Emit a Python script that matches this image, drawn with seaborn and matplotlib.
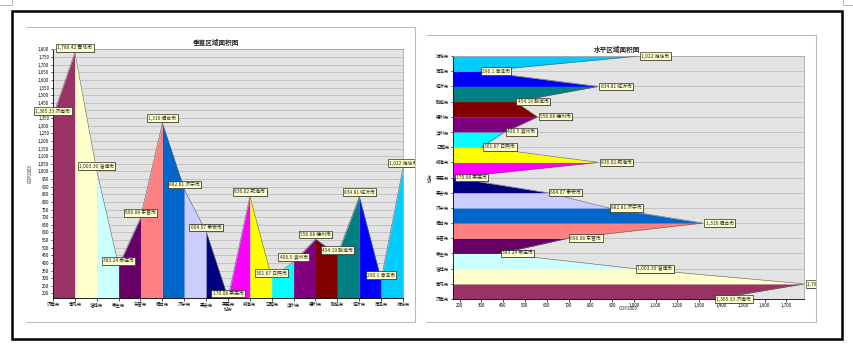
import numpy as np
import matplotlib
matplotlib.use("Agg")
import matplotlib.pyplot as plt
import matplotlib.patheffects as pe
from matplotlib.lines import Line2D
from matplotlib.patches import Rectangle
from matplotlib.transforms import Bbox, TransformedBbox
from matplotlib.ticker import FuncFormatter
import seaborn as sns

# 数据
cities = ["济南市", "青岛市", "淄博市", "枣庄市", "东营市", "烟台市", "济宁市", "泰安市", "莱芜市",
          "威海市", "日照市", "滨州市", "德州市", "聊城市", "临沂市", "菏泽市", "潍坊市"]
gdp = [1365.33, 1780.42, 1003.30, 383.24, 696.08, 1316, 882.81, 604.07, 170.08,
       836.02, 301.67, 406.5, 556.68, 454.19, 834.81, 290.1, 1022]
gdp_text = ["1,365.33", "1,780.42", "1,003.30", "383.24", "696.08", "1,316", "882.81", "604.07", "170.08",
            "836.02", "301.67", "406.5", "556.68", "454.19", "834.81", "290.1", "1,022"]
seg_colors = ["#993366", "#FFFFCC", "#CCFFFF", "#660066", "#FF8080", "#0066CC", "#CCCCFF", "#000080",
              "#FF00FF", "#FFFF00", "#00FFFF", "#800080", "#800000", "#008080", "#0000FF", "#00CCFF"]
v_ticks = list(range(200, 1801, 50))
h_ticks = list(range(200, 1701, 100))

W, H = 854, 353
sns.set_theme(style="white")
plt.rcParams['font.family'] = ['Noto Sans CJK SC', 'DejaVu Sans']

fig = plt.figure(figsize=(W / 100, H / 100), dpi=100)
fig.patch.set_facecolor("white")


def fx(x):
    return x / W


def fy(y):
    return 1 - y / H


def fig_line(xs, ys, color="#BBBBBB", lw=0.8):
    fig.add_artist(Line2D([fx(x) for x in xs], [fy(y) for y in ys], color=color, lw=lw,
                          transform=fig.transFigure))


comma = FuncFormatter(lambda v, p: f"{v:,.0f}")
box = dict(boxstyle="square,pad=0.25", fc="#FFFFCC", ec="black", lw=0.4)
tick_fs = 3.2
lab_fs = 3.5


def style_axes(ax):
    ax.set_facecolor("#E3E3E3")
    for s in ["left", "bottom"]:
        ax.spines[s].set_color("black")
        ax.spines[s].set_linewidth(0.6)
    for s in ["top", "right"]:
        ax.spines[s].set_color("#A8A8A8")
        ax.spines[s].set_linewidth(0.6)
    ax.tick_params(axis="both", labelsize=tick_fs, length=1.8, width=0.5, pad=1,
                   direction="out", colors="black", bottom=True, left=True)
    ax.set_axisbelow(True)


def add_label(ax, xy, txt, offset, ha, va, clip):
    t = ax.annotate(txt, xy, xytext=offset, textcoords="offset points", ha=ha, va=va,
                    fontsize=lab_fs, bbox=box, annotation_clip=False, zorder=10)
    t.set_clip_on(True)
    t.set_clip_box(TransformedBbox(clip, fig.transFigure))
    t.get_bbox_patch().set_path_effects([
        pe.SimplePatchShadow(offset=(0.7, -0.7), shadow_rgbFace="#7F7F7F", alpha=0.9), pe.Normal()])


pos = np.arange(len(cities))
vmin = min(gdp)

# 垂直区域面积图
ax1 = fig.add_axes([fx(53), fy(298), fx(403) - fx(53), fy(48.5) - fy(298)])
style_axes(ax1)
for i in range(len(cities) - 1):
    ax1.fill_between([pos[i], pos[i + 1]], [gdp[i], gdp[i + 1]], vmin, color=seg_colors[i], lw=0, zorder=2)
sns.lineplot(x=pos, y=gdp, color="#606060", lw=0.4, ax=ax1, zorder=3)
ax1.set_xlim(0, len(cities) - 1)
ax1.set_ylim(vmin, 1806)
ax1.set_yticks(v_ticks)
ax1.yaxis.set_major_formatter(comma)
ax1.set_xticks(pos)
ax1.set_xticklabels(cities)
ax1.yaxis.grid(True, color="#BDBDBD", lw=0.6)
ax1.set_ylabel("GDP2003", fontsize=tick_fs)
ax1.yaxis.set_label_coords(-0.057, 0.5)
ax1.set_xlabel("城市", fontsize=tick_fs)
ax1.xaxis.set_label_coords(0.5, -0.036)
clip1 = Bbox.from_extents(fx(12), fy(339), fx(415), fy(11))
for i in range(len(cities)):
    add_label(ax1, (pos[i], gdp[i]), f"{gdp_text[i]} {cities[i]}", (0, 1.5), "center", "bottom", clip1)
fig.text(fx(216), fy(42), "垂直区域面积图", ha="center", va="center", fontsize=4.8, fontweight="bold")

# 水平区域面积图
ax2 = fig.add_axes([fx(453), fy(299), fx(804) - fx(453), fy(56) - fy(299)])
style_axes(ax2)
for i in range(len(cities) - 1):
    ax2.fill_betweenx([pos[i], pos[i + 1]], [gdp[i], gdp[i + 1]], vmin, color=seg_colors[i], lw=0, zorder=2)
ax2.plot(gdp, pos, color="#606060", lw=0.4, zorder=3)
ax2.set_ylim(0, len(cities) - 1)
ax2.set_xlim(vmin, max(gdp))
ax2.set_xticks(h_ticks)
ax2.xaxis.set_major_formatter(comma)
ax2.set_yticks(pos)
ax2.set_yticklabels(cities)
ax2.yaxis.grid(True, color="#BDBDBD", lw=0.6)
ax2.set_xlabel("GDP2003", fontsize=tick_fs)
ax2.xaxis.set_label_coords(0.5, -0.030)
ax2.set_ylabel("城市", fontsize=tick_fs)
ax2.yaxis.set_label_coords(-0.057, 0.5)
clip2 = Bbox.from_extents(fx(420), fy(339), fx(816), fy(11))
for i in range(len(cities)):
    add_label(ax2, (gdp[i], pos[i]), f"{gdp_text[i]} {cities[i]}", (2, 0), "left", "center", clip2)
fig.text(fx(617), fy(49), "水平区域面积图", ha="center", va="center", fontsize=4.8, fontweight="bold")

# 面板边框
fig_line([26, 415], [27, 27])
fig_line([415, 415], [27, 322])
fig_line([26, 415], [322, 322])
fig_line([427, 816], [35, 35])
fig_line([816, 816], [35, 322])
fig_line([427, 816], [322, 322])
# 角标
fig_line([12, 12, 0], [0, 5, 5], color="#999999", lw=0.5)
fig_line([843, 843, 854], [0, 5, 5], color="#999999", lw=0.5)
fig.add_artist(Rectangle((fx(12), fy(339)), fx(842) - fx(12), fy(11) - fy(339), fill=False,
                         ec="black", lw=1.8, transform=fig.transFigure))

fig.savefig("out.png", dpi=100)
